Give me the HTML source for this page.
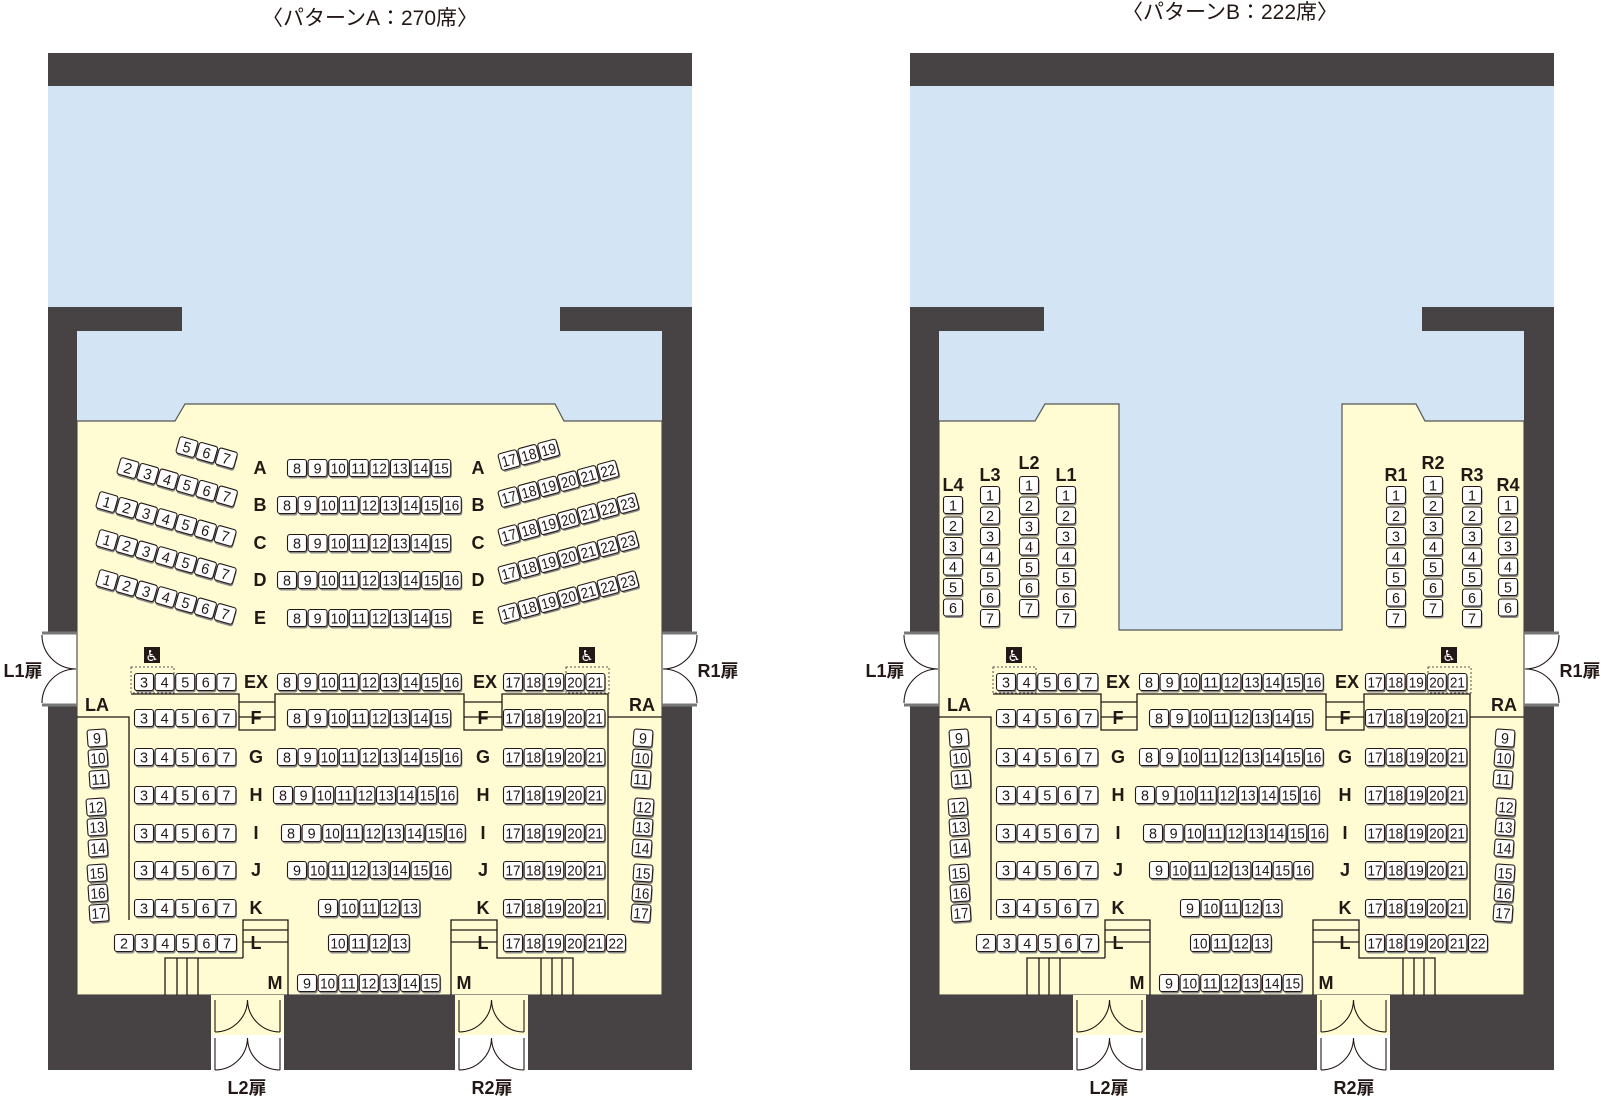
<!DOCTYPE html>
<html><head><meta charset="utf-8"><style>
html,body{margin:0;padding:0;background:#fff;width:1601px;height:1100px;overflow:hidden}
svg{display:block}
text{font-family:"Liberation Sans Narrow","Liberation Sans","Noto Sans CJK JP",sans-serif;fill:#231815}
.t{font-size:21px;font-family:"Liberation Sans","Noto Sans CJK JP",sans-serif}
.d{font-size:18px;font-weight:bold;font-family:"Liberation Sans","Noto Sans CJK JP",sans-serif}
</style></head><body>
<svg id="s" width="1601" height="1100" viewBox="0 0 1601 1100" xmlns="http://www.w3.org/2000/svg">
<text class="t" x="370" y="25" text-anchor="middle">〈パターンA：270席〉</text>
<text class="t" x="1230" y="19" text-anchor="middle">〈パターンB：222席〉</text>
<text class="d" x="23" y="677" text-anchor="middle">L1扉</text>
<text class="d" x="718" y="677" text-anchor="middle">R1扉</text>
<text class="d" x="247" y="1094" text-anchor="middle">L2扉</text>
<text class="d" x="492" y="1094" text-anchor="middle">R2扉</text>
<text class="d" x="885" y="677" text-anchor="middle">L1扉</text>
<text class="d" x="1580" y="677" text-anchor="middle">R1扉</text>
<text class="d" x="1109" y="1094" text-anchor="middle">L2扉</text>
<text class="d" x="1354" y="1094" text-anchor="middle">R2扉</text>
<g id="g"></g>
</svg>
<script>
var out='';
var DK='#474344',BL='#d3e5f5',YL='#fffbd2',LN='#231815';
function seat(x,y,n,a){
 var s=String(n);
 var tl=s.length>1?' textLength="15" lengthAdjust="spacingAndGlyphs"':' textLength="8" lengthAdjust="spacingAndGlyphs"';
 out+='<g transform="translate('+x.toFixed(1)+','+y.toFixed(1)+') rotate('+(a||0)+')">'+
 '<rect x="-8.5" y="-6.5" width="19" height="17" rx="2.5" fill="#8a8a8a"/>'+
 '<rect x="-9.5" y="-8.5" width="19" height="17" rx="2.5" fill="#fff" stroke="'+LN+'" stroke-width="1.1"/>'+
 '<text x="0" y="5.5" text-anchor="middle" font-size="15"'+tl+'>'+s+'</text></g>';
}
function hrow(x,y,a,b){for(var n=a;n<=b;n++)seat(x+(n-a)*20.6,y,n,0);}
function arow(x,y,a,b,ang){var r=ang*Math.PI/180;for(var n=a;n<=b;n++)seat(x+(n-a)*20.5*Math.cos(r),y+(n-a)*20.5*Math.sin(r),n,ang);}
function col(x,y,a,b){for(var n=a;n<=b;n++)seat(x,y+(n-a)*20.5,n,0);}
function lab(x,y,t,sz){out+='<text x="'+x+'" y="'+(y+6)+'" text-anchor="middle" font-size="'+(sz||18)+'" font-weight="bold">'+t+'</text>';}
function wc(x,y){out+='<rect x="'+(x-8)+'" y="'+(y-8)+'" width="16" height="16" fill="'+LN+'"/><text x="'+x+'" y="'+(y+6)+'" text-anchor="middle" font-size="15" style="fill:#fff;font-family:DejaVu Sans">♿</text>';}
function line(p){out+='<polyline points="'+p+'" fill="none" stroke="'+LN+'" stroke-width="1.3"/>';}
function room(o,B){
 var R=function(x,y,w,h,c){out+='<rect x="'+(x+o)+'" y="'+y+'" width="'+w+'" height="'+h+'" fill="'+c+'"/>';};
 R(48,86,644,335,BL);
 if(!B){
  out+='<polygon points="'+[[77,421],[175,421],[185,404],[555,404],[564,421],[662,421],[662,995],[77,995]].map(function(p){return (p[0]+o)+','+p[1]}).join(' ')+'" fill="'+YL+'" stroke="#555" stroke-width="1.2"/>';
 } else {
  R(250,400,240,231,BL);
  out+='<polygon points="'+[[77,421],[173,421],[183,404],[257,404],[257,630],[480,630],[480,404],[554,404],[563,421],[662,421],[662,995],[77,995]].map(function(p){return (p[0]+o)+','+p[1]}).join(' ')+'" fill="'+YL+'" stroke="#555" stroke-width="1.2"/>';
 }
 R(48,53,644,33,DK);
 R(48,307,134,24,DK);R(560,307,132,24,DK);
 R(48,307,29,326,DK);R(662,307,30,326,DK);
 R(48,705,29,365,DK);R(662,705,30,365,DK);
 R(48,995,163,75,DK);R(284,995,171,75,DK);R(528,995,164,75,DK);
 R(211,995,73,5,YL);R(455,995,73,5,YL);
 R(211,1000,73,35,YL);R(455,1000,73,35,YL);
 // side doors
 var sd=function(x0,dir){
  var xa=x0+o, xb=xa+dir*34;
  out+='<path d="M'+xa+',635 A34,34 0 0 '+(dir>0?0:1)+' '+xb+',669 M'+xa+',703 A34,34 0 0 '+(dir>0?1:0)+' '+xb+',669" fill="none" stroke="'+LN+'" stroke-width="1.1"/>';
  out+='<line x1="'+xa+'" y1="633" x2="'+(x0<100?77+o:662+o)+'" y2="633" stroke="#777" stroke-width="3"/><line x1="'+xa+'" y1="705" x2="'+(x0<100?77+o:662+o)+'" y2="705" stroke="#777" stroke-width="3"/>';
 };
 sd(42,1);sd(697,-1);
 // bottom doors
 [[211,284],[455,528]].forEach(function(d){
  var a=d[0]+4+o,b=d[1]-4+o,m=(a+b)/2,r=(b-a)/2;
  [[1000,1032],[1038,1070]].forEach(function(v){
   out+='<path d="M'+m+','+v[0]+' A'+r+','+r+' 0 0 1 '+a+','+v[1]+' M'+m+','+v[0]+' A'+r+','+r+' 0 0 0 '+b+','+v[1]+' M'+a+','+v[0]+' V'+v[1]+' M'+b+','+v[0]+' V'+v[1]+'" fill="none" stroke="'+LN+'" stroke-width="1.1"/>';
  });
 });
 // lines
 var L=function(pts){line(pts.map(function(p){return (p[0]+o)+','+p[1]}).join(' '));};
 L([[77,717],[129,717],[129,920]]);
 L([[131,694],[239,694],[239,730],[275,730],[275,694],[464,694],[464,730],[502,730],[502,694],[608,694],[608,920]]);
 L([[239,702],[275,702]]);L([[239,717],[275,717]]);L([[464,702],[502,702]]);L([[464,717],[502,717]]);
 L([[608,717],[662,717]]);
 L([[243,958],[243,920],[288,920],[288,995]]);L([[243,930],[288,930]]);L([[243,942],[288,942]]);
 L([[165,995],[165,958],[243,958]]);L([[177,958],[177,995]]);L([[187,958],[187,995]]);L([[198,958],[198,995]]);
 L([[451,995],[451,920],[497,920],[497,958],[573,958],[573,995]]);L([[451,930],[497,930]]);L([[451,942],[497,942]]);
 L([[541,958],[541,995]]);L([[552,958],[552,995]]);L([[562,958],[562,995]]);
 out+='<rect x="'+(131+o)+'" y="667" width="43" height="26" fill="none" stroke="#555" stroke-dasharray="2,2"/>';
 out+='<rect x="'+(566+o)+'" y="667" width="43" height="26" fill="none" stroke="#555" stroke-dasharray="2,2"/>';
 wc(152+o,655);wc(587+o,655);
 var X=function(x){return x+o};
 hrow(X(144),682,3,7);hrow(X(287),682,8,16);hrow(X(513),682,17,21);lab(X(256),682,'EX');lab(X(485),682,'EX');
 var rows=[['F',718,297,8,15],['G',757,287,8,16],['H',795,283,8,16],['I',833,291,8,16],['J',870,297,9,16],['K',908,328,9,13]];
 rows.forEach(function(r){hrow(X(144),r[1],3,7);hrow(X(r[2]),r[1],r[3],r[4]);hrow(X(513),r[1],17,21);lab(X(256),r[1],r[0]);lab(X(483),r[1],r[0]);});
 hrow(X(124),943,2,7);hrow(X(338),943,10,13);hrow(X(513),943,17,22);lab(X(256),943,'L');lab(X(483),943,'L');
 hrow(X(307),983,9,15);lab(X(275),983,'M');lab(X(464),983,'M');
 lab(X(97),705,'LA');lab(X(642),705,'RA');
 var ly=[738,758,779,807,827,848,873,893,913],lx=[97,98,99,96,97,98,97,98,99];
 for(var i=0;i<9;i++){seat(X(lx[i]),ly[i],9+i,-4);seat(X(740-lx[i]),ly[i],9+i,4);}
 if(!B){
  var ys=[468,505,543,580,618];
  ys.forEach(function(y,i){
   var full=(i%2==1);
   hrow(X(full?287:297),y,8,full?16:15);
   var L2='ABCDE'[i];lab(X(260),y,L2);lab(X(478),y,L2);
  });
  arow(X(187),447,5,7,16);arow(X(128),468,2,7,16);arow(X(107),502,1,7,16);arow(X(107),540,1,7,16);arow(X(107),580,1,7,16);
  arow(X(509),460,17,19,-15);arow(X(509),497,17,22,-15);arow(X(509),535,17,23,-15);arow(X(509),573,17,23,-15);arow(X(509),613,17,23,-15);
 } else {
  col(953,505,1,6);lab(953,485,'L4');
  col(990,495,1,7);lab(990,475,'L3');
  col(1029,485,1,7);lab(1029,463,'L2');
  col(1066,495,1,7);lab(1066,475,'L1');
  col(1396,495,1,7);lab(1396,475,'R1');
  col(1433,485,1,7);lab(1433,463,'R2');
  col(1472,495,1,7);lab(1472,475,'R3');
  col(1508,505,1,6);lab(1508,485,'R4');
 }
}
room(0,false);room(862,true);
document.getElementById('g').innerHTML=out;
</script>
</body></html>
